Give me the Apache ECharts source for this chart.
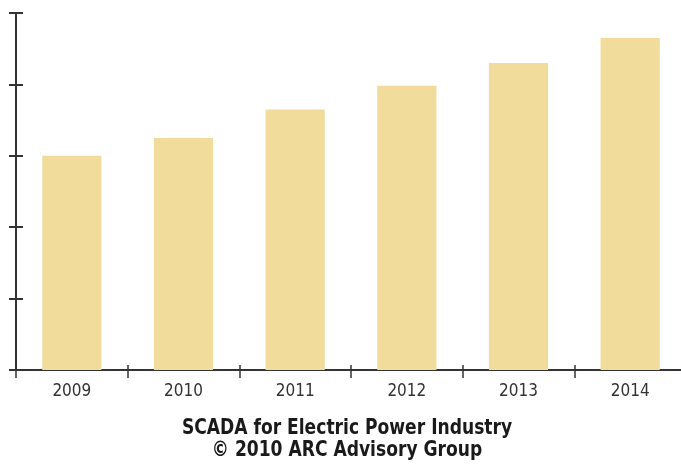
<!DOCTYPE html>
<html><head><meta charset="utf-8">
<script src="https://cdn.jsdelivr.net/npm/echarts@6/dist/echarts.min.js"></script>
<style>html,body{margin:0;padding:0;background:#fff;overflow:hidden}#c{width:690px;height:466px}</style>
</head><body><div id="c"></div>
<script>
const categories = ['2009','2010','2011','2012','2013','2014'];
const values = [3.0, 3.25, 3.65, 3.98, 4.3, 4.65];
const titleLines = ['SCADA for Electric Power Industry', '\u00a9 2010 ARC Advisory Group'];

const FONT = "'DejaVu Sans Condensed', 'Liberation Sans', sans-serif";
const chart = echarts.init(document.getElementById('c'));
const axisColor = '#333333';
const yBase = {
  type: 'value', min: 0, max: 5, interval: 1,
  axisLabel: {show: false}, splitLine: {show: false},
  axisLine: {show: true, lineStyle: {color: axisColor, width: 2}},
  axisTick: {show: true, length: 7, lineStyle: {color: axisColor, width: 2}}
};
chart.setOption({
  animation: false,
  graphic: titleLines.map((t, i) => ({
    type: 'text', x: 347, y: 428 + i * 22, scaleX: 0.865,
    style: {text: t, textAlign: 'center', textVerticalAlign: 'middle',
      font: 'bold 22px ' + FONT, fill: '#1a1a1a'}
  })),
  grid: {left: 16, width: 670, top: 13, bottom: 96},
  xAxis: [{
    type: 'category', data: categories,
    axisLine: {lineStyle: {color: axisColor, width: 2}},
    axisTick: {show: true, length: 8, lineStyle: {color: axisColor, width: 1.5}},
    axisLabel: {fontFamily: FONT, fontSize: 17, color: '#333', margin: 13}
  }, {
    type: 'category', data: categories, position: 'bottom',
    axisLine: {show: false},
    axisTick: {show: true, inside: true, length: 5, lineStyle: {color: axisColor, width: 1.5}},
    axisLabel: {show: false}
  }],
  yAxis: [
    Object.assign({}, yBase),
    Object.assign({}, yBase, {position: 'left', axisLine: {show: false}, axisTick: {show: true, inside: true, length: 7, lineStyle: {color: axisColor, width: 2}}})
  ],
  series: [{
    type: 'bar', data: values, barWidth: '53%',
    itemStyle: {color: '#F1DC9B'}
  }]
});
</script></body></html>
